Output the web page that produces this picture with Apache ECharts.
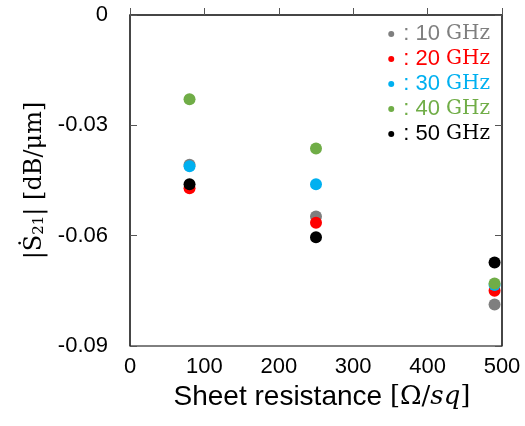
<!DOCTYPE html>
<html>
<head>
<meta charset="utf-8" />
<title></title>
<script src="https://cdn.jsdelivr.net/npm/echarts@6/dist/echarts.min.js"></script>
<style>
  html, body { margin: 0; padding: 0; background: #fff; }
</style>
</head>
<body>
<div id="chart" style="width: 525px; height: 426px;"></div>
<script>
// sheet resistance [Ohm/sq]
var resistance = [80, 250, 490];
// |S21| per frequency, dB/um
var freqNames = ['10', '20', '30', '40', '50'];
var s10 = [-0.0407, -0.0548, -0.0787];
var s20 = [-0.0471, -0.0565, -0.0750];
var s30 = [-0.0411, -0.0460, -0.0734];
var s40 = [-0.0229, -0.0363, -0.0730];
var s50 = [-0.0460, -0.0604, -0.0673];
var colors = ['#7f7f7f', '#ff0000', '#00b0f0', '#70ad47', '#000000'];

var allVals = [s10, s20, s30, s40, s50];

var sans = 'Liberation Sans';
var serif = 'DejaVu Serif';

var series = [];
var rich = {};
for (var i = 0; i < allVals.length; i++) {
    var pts = [];
    for (var j = 0; j < resistance.length; j++) {
        pts.push([resistance[j], allVals[i][j]]);
    }
    series.push({
        name: freqNames[i],
        type: 'scatter',
        symbolSize: 12,
        itemStyle: { color: colors[i], opacity: 1 },
        data: pts
    });
    rich['n' + i] = { fontFamily: sans, fontSize: 22, color: colors[i] };
    rich['u' + i] = { fontFamily: serif, fontSize: 20, color: colors[i] };
}

var myChart = echarts.init(document.getElementById('chart'));
var option = {
    animation: false,
    grid: {
        left: 130, right: 23, top: 15, bottom: 80,
        show: true, borderColor: '#000', borderWidth: 1
    },
    legend: {
        orient: 'vertical',
        right: 30,
        top: 18,
        itemGap: 3,
        itemWidth: 6,
        itemHeight: 6,
        icon: 'circle',
        data: freqNames,
        formatter: function (name) {
            var k = freqNames.indexOf(name);
            return '{n' + k + '|: ' + name + ' }{u' + k + '|GHz}';
        },
        textStyle: { rich: rich, padding: [0, 0, 0, 4] }
    },
    xAxis: [{
        type: 'value',
        min: 0, max: 500, interval: 100,
        name: '{a|Sheet resistance }{b|[Ω/}{c|sq}{b|]}',
        nameLocation: 'middle',
        nameGap: 33,
        nameTextStyle: {
            padding: [0, 0, 0, 12],
            rich: {
                a: { fontFamily: sans, fontSize: 28, color: '#000' },
                b: { fontFamily: serif, fontSize: 26, color: '#000' },
                c: { fontFamily: serif, fontSize: 26, fontStyle: 'italic', color: '#000' }
            }
        },
        splitLine: { show: false },
        axisLine: { lineStyle: { color: '#333', width: 1.5 } },
        axisTick: { inside: true, length: 7, lineStyle: { color: '#555' } },
        axisLabel: { fontFamily: sans, fontSize: 22, color: '#000', margin: 10 }
    }],
    yAxis: [{
        type: 'value',
        min: -0.09, max: 0, interval: 0.03,
        name: '{a||Ṡ}{s|21}{a|| [dB/μm]}',
        nameLocation: 'middle',
        nameGap: 80,
        nameTextStyle: {
            rich: {
                a: { fontFamily: serif, fontSize: 24, color: '#000', lineHeight: 28 },
                s: { fontFamily: serif, fontSize: 15, color: '#000', padding: [10, 0, 0, 0] }
            }
        },
        splitLine: { show: false },
        axisLine: { show: true, lineStyle: { color: '#333', width: 1.5 } },
        axisTick: { show: true, inside: true, length: 7, lineStyle: { color: '#555' } },
        axisLabel: {
            fontFamily: sans, fontSize: 22, color: '#000', margin: 22,
            formatter: function (v) { return v === 0 ? '0' : v.toFixed(2); }
        }
    }, {
        type: 'value',
        position: 'right',
        min: -0.09, max: 0, interval: 0.03,
        splitLine: { show: false },
        axisLine: { show: true, lineStyle: { color: '#333', width: 1.5 } },
        axisTick: { show: true, inside: true, length: 7, lineStyle: { color: '#555' } },
        axisLabel: { show: false }
    }],
    series: series
};
myChart.setOption(option);
</script>
</body>
</html>
